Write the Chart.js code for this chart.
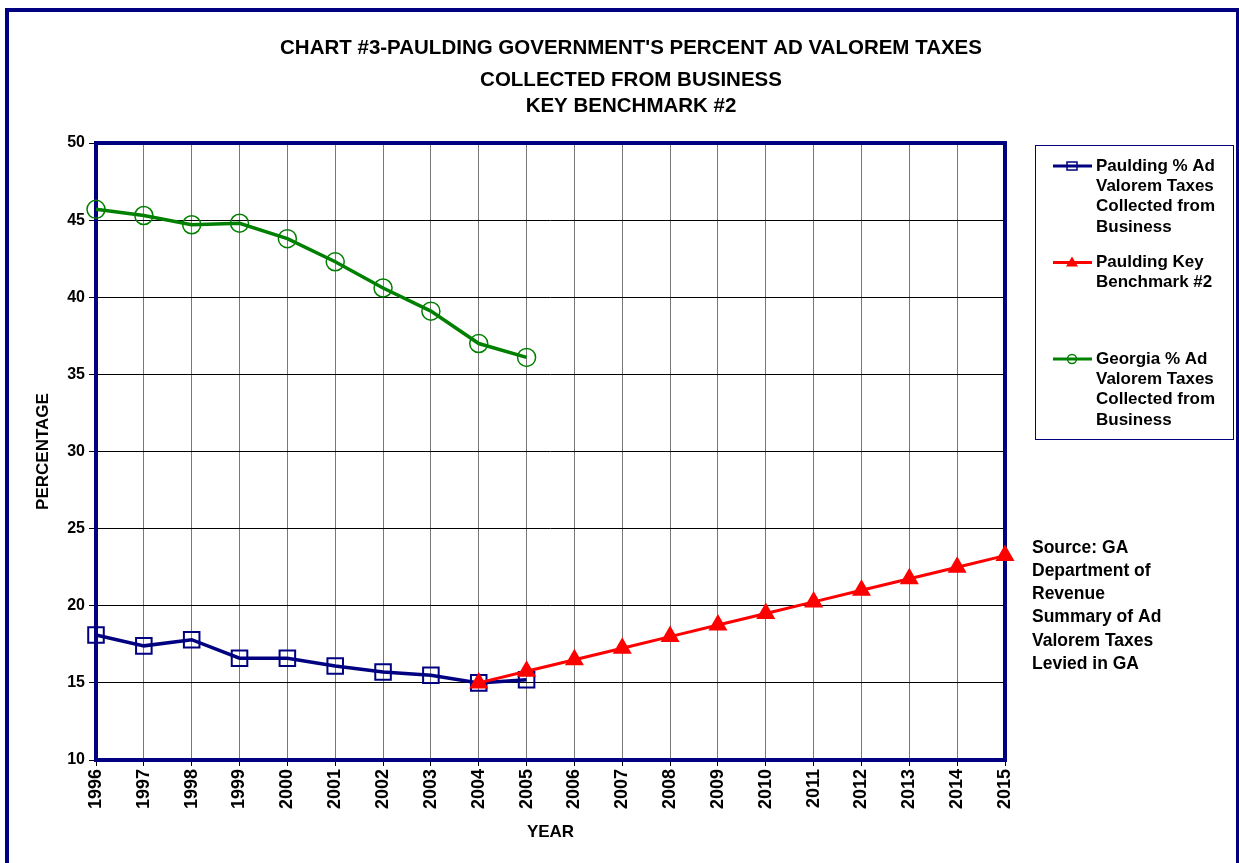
<!DOCTYPE html>
<html>
<head>
<meta charset="utf-8">
<script src="https://cdn.jsdelivr.net/npm/chart.js@4/dist/chart.umd.min.js"></script>
<style>
  html, body { margin: 0; padding: 0; background: #fff; }
  #wrap { width: 1239px; height: 863px; position: relative; }
</style>
</head>
<body>
<div id="wrap"><canvas id="taxChart"></canvas></div>
<script>
// Chart data
const years = ['1996', '1997', '1998', '1999', '2000', '2001', '2002', '2003', '2004', '2005',
  '2006', '2007', '2008', '2009', '2010', '2011', '2012', '2013', '2014', '2015'];
const pauldingPct = [18.1, 17.4, 17.8, 16.6, 16.6, 16.1, 15.7, 15.5, 15.0, 15.2,
  null, null, null, null, null, null, null, null, null, null];
const benchmarkPct = [null, null, null, null, null, null, null, null, 15.0, 15.75,
  16.5, 17.25, 18.0, 18.75, 19.5, 20.25, 21.0, 21.75, 22.5, 23.25];
const georgiaPct = [45.7, 45.3, 44.7, 44.8, 43.8, 42.3, 40.6, 39.1, 37.0, 36.1,
  null, null, null, null, null, null, null, null, null, null];

const titleLines = ["CHART #3-PAULDING GOVERNMENT'S PERCENT AD VALOREM TAXES", 'COLLECTED FROM BUSINESS', 'KEY BENCHMARK #2'];
const legendLines = [
  ['Paulding % Ad', 'Valorem Taxes', 'Collected from', 'Business'],
  ['Paulding Key', 'Benchmark #2'],
  ['Georgia % Ad', 'Valorem Taxes', 'Collected from', 'Business']
];
const sourceLines = ['Source: GA', 'Department of', 'Revenue', 'Summary of Ad', 'Valorem Taxes', 'Levied in GA'];

const NAVY = '#000080';
const FONT = '"Liberation Sans", Arial, sans-serif';

// frame, titles, plot border, legend box and source note
const decorations = {
  id: 'decorations',
  beforeDraw(chart) {
    const ctx = chart.ctx;
    ctx.save();
    ctx.fillStyle = '#fff';
    ctx.fillRect(0, 0, chart.width, chart.height);
    ctx.strokeStyle = NAVY;
    ctx.lineWidth = 4;
    ctx.strokeRect(7, 10, 1231, 900);
    ctx.fillStyle = '#000';
    ctx.textAlign = 'center';
    ctx.textBaseline = 'middle';
    ctx.font = 'bold 20.5px ' + FONT;
    const ty = [48, 80, 106];
    titleLines.forEach((t, i) => ctx.fillText(t, 631, ty[i]));
    ctx.restore();
  },
  beforeDatasetsDraw(chart) {
    const {ctx, chartArea: a} = chart;
    ctx.save();
    ctx.strokeStyle = NAVY;
    ctx.lineWidth = 4;
    ctx.strokeRect(a.left, a.top, a.right - a.left, a.bottom - a.top);
    ctx.restore();
  },
  afterDraw(chart) {
    const ctx = chart.ctx;
    ctx.save();
    // legend box
    ctx.strokeStyle = NAVY;
    ctx.lineWidth = 1;
    ctx.strokeRect(1035.5, 145.5, 198, 294);
    ctx.font = 'bold 17px ' + FONT;
    ctx.textAlign = 'left';
    ctx.textBaseline = 'middle';
    [0, 1, 2].forEach((di, k) => {
      const ds = chart.data.datasets[di];
      const y0 = 166 + k * 96.5;
      ctx.strokeStyle = ds.borderColor;
      ctx.lineWidth = 3;
      ctx.beginPath();
      ctx.moveTo(1053, y0);
      ctx.lineTo(1092, y0);
      ctx.stroke();
      const cx = 1072;
      ctx.lineWidth = 1.5;
      if (ds.pointStyle === 'rect') {
        ctx.strokeRect(cx - 5, y0 - 4, 10, 8);
      } else if (ds.pointStyle === 'circle') {
        ctx.beginPath();
        ctx.arc(cx, y0, 4.5, 0, Math.PI * 2);
        ctx.stroke();
      } else {
        ctx.fillStyle = ds.pointBackgroundColor;
        ctx.beginPath();
        ctx.moveTo(cx, y0 - 6);
        ctx.lineTo(cx + 6, y0 + 4);
        ctx.lineTo(cx - 6, y0 + 4);
        ctx.closePath();
        ctx.fill();
      }
      ctx.fillStyle = '#000';
      legendLines[k].forEach((t, i) => ctx.fillText(t, 1096, y0 + i * 20.3));
    });
    // source note
    ctx.font = 'bold 17.5px ' + FONT;
    sourceLines.forEach((t, i) => ctx.fillText(t, 1032, 548 + i * 23.2));
    ctx.restore();
  }
};

const ctx = document.getElementById('taxChart').getContext('2d');
new Chart(ctx, {
  type: 'line',
  data: {
    labels: years,
    datasets: [
      {
        label: 'Paulding % Ad Valorem Taxes Collected from Business',
        data: pauldingPct,
        borderColor: NAVY,
        borderWidth: 3.5,
        pointStyle: 'rect',
        pointRadius: 11,
        pointBorderWidth: 2,
        pointBackgroundColor: 'rgba(255,255,255,0)',
        pointBorderColor: NAVY,
        order: 2
      },
      {
        label: 'Paulding Key Benchmark #2',
        data: benchmarkPct,
        borderColor: '#ff0000',
        borderWidth: 3,
        pointStyle: 'triangle',
        pointRadius: 8,
        pointBackgroundColor: '#ff0000',
        pointBorderColor: '#ff0000',
        order: 1
      },
      {
        label: 'Georgia % Ad Valorem Taxes Collected from Business',
        data: georgiaPct,
        borderColor: '#008000',
        borderWidth: 3.5,
        pointStyle: 'circle',
        pointRadius: 9,
        pointBorderWidth: 1.5,
        pointBackgroundColor: 'rgba(255,255,255,0)',
        pointBorderColor: '#008000',
        order: 3
      }
    ]
  },
  options: {
    responsive: true,
    maintainAspectRatio: false,
    animation: false,
    tension: 0,
    spanGaps: false,
    layout: { padding: { top: 143, right: 234, bottom: 0, left: 0 } },
    plugins: {
      legend: { display: false },
      title: { display: false },
      tooltip: { enabled: false }
    },
    scales: {
      x: {
        offset: false,
        afterFit: (s) => { s.height = 103; },
        grid: { color: '#777', lineWidth: 1, tickLength: 6, tickColor: '#000' },
        border: { display: false },
        ticks: { color: '#000', font: { family: FONT, size: 18, weight: 'bold' }, minRotation: 90, maxRotation: 90, autoSkip: false, padding: 3 },
        title: { display: true, text: 'YEAR', color: '#000', font: { family: FONT, size: 17, weight: 'bold' }, padding: { top: 0, bottom: 20 } }
      },
      y: {
        min: 10,
        max: 50,
        afterFit: (s) => { s.width = 96; },
        grid: { color: '#000', lineWidth: 1, tickLength: 7 },
        border: { display: false },
        ticks: { stepSize: 5, color: '#000', font: { family: FONT, size: 16, weight: 'bold' }, padding: 4 },
        title: { display: true, text: 'PERCENTAGE', color: '#000', font: { family: FONT, size: 17, weight: 'bold' }, padding: { top: 33, bottom: 0 } }
      }
    }
  },
  plugins: [decorations]
});
</script>
</body>
</html>
